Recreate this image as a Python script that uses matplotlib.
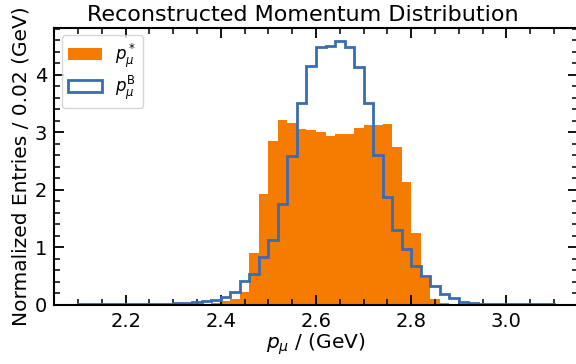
import numpy as np
import matplotlib
matplotlib.use("Agg")
import matplotlib.pyplot as plt
from matplotlib.ticker import MultipleLocator

# Histogram binning (GeV)
bin_lo = 2.10
bin_hi = 3.10
n_bins = 50

# Normalized entries per 0.02 GeV bin
p_star = [0, 0, 0, 0, 0,
          0.005, 0.003, 0.002, 0.003, 0.003,
          0.005, 0.008, 0.010, 0.015, 0.02,
          0.06, 0.09, 0.22, 0.90, 1.92,
          2.85, 3.21, 3.16, 3.06, 3.04,
          3.01, 2.94, 2.97, 2.97, 3.08,
          3.12, 3.12, 3.15, 2.75, 2.14,
          1.24, 0.46, 0.10, 0.03, 0.005,
          0, 0, 0, 0, 0,
          0, 0, 0, 0, 0]

p_B = [0.005, 0.005, 0.005, 0.005, 0.005,
       0.008, 0.008, 0.008, 0.012, 0.012,
       0.02, 0.03, 0.04, 0.06, 0.08,
       0.13, 0.22, 0.41, 0.54, 0.83,
       1.12, 1.75, 2.58, 3.51, 4.16,
       4.49, 4.51, 4.58, 4.49, 4.13,
       3.51, 2.60, 1.87, 1.30, 0.97,
       0.68, 0.49, 0.33, 0.19, 0.12,
       0.045, 0.03, 0.015, 0.01, 0.008,
       0.006, 0.005, 0.004, 0.003, 0.003]

labels = [r"$p_\mu^*$", r"$p_\mu^\mathrm{B}$"]
orange = "#f57c00"
blue = "#3a6cb2"

edges = np.linspace(bin_lo, bin_hi, n_bins + 1)
centers = 0.5 * (edges[:-1] + edges[1:])

fig = plt.figure(figsize=(5.76, 3.64), dpi=100)
ax = fig.add_axes([54.3 / 576, 1 - 304.6 / 364, 523.4 / 576, (304.6 - 27.7) / 364])

ax.hist(centers, bins=edges, weights=p_star, histtype="stepfilled",
        color=orange, label=labels[0])
ax.hist(centers, bins=edges, weights=p_B, histtype="step",
        color=blue, linewidth=2.0, label=labels[1])

ax.set_xlim(2.05, 3.15)
ax.set_ylim(0, 4.82)
ax.xaxis.set_major_locator(MultipleLocator(0.2))
ax.xaxis.set_minor_locator(MultipleLocator(0.05))
ax.yaxis.set_major_locator(MultipleLocator(1))
ax.yaxis.set_minor_locator(MultipleLocator(0.2))
ax.tick_params(which="both", direction="in", top=True, right=True, labelsize=14)
ax.tick_params(which="major", length=7.5, width=1.3, pad=5)
ax.tick_params(which="minor", length=4, width=1.1)
for s in ax.spines.values():
    s.set_linewidth(1.5)

ax.set_xlabel(r"$p_\mu$ / (GeV)", fontsize=14.5, labelpad=1)
ax.set_ylabel("Normalized Entries / 0.02 (GeV)", fontsize=14.5, labelpad=3)
ax.set_title("Reconstructed Momentum Distribution", fontsize=16, pad=5, x=0.474)
ax.legend(loc="upper left", fontsize=12, labelspacing=0.2,
          borderaxespad=0.45)

fig.savefig("out.png", dpi=100)
